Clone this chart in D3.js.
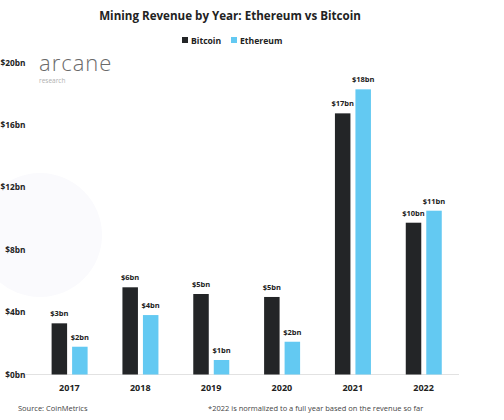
<!DOCTYPE html>
<html>
<head>
<meta charset="utf-8">
<script src="https://cdn.jsdelivr.net/npm/d3@7"></script>
<style>
  html, body { margin: 0; padding: 0; background: #fff; }
  text { font-family: "Open Sans", sans-serif; }
</style>
</head>
<body>
<div id="chart-area"></div>
<script>
// data
var years = ["2017", "2018", "2019", "2020", "2021", "2022"];
var series = ["Bitcoin", "Ethereum"];
var bitcoin = [3.28, 5.59, 5.16, 4.97, 16.74, 9.73];
var ethereum = [1.78, 3.81, 0.93, 2.1, 18.28, 10.5];
var btcLabels = ["$3bn", "$6bn", "$5bn", "$5bn", "$17bn", "$10bn"];
var ethLabels = ["$2bn", "$4bn", "$1bn", "$2bn", "$18bn", "$11bn"];
var yTicks = [0, 4, 8, 12, 16, 20];

var colors = { Bitcoin: "#232527", Ethereum: "#63c9f2" };

var W = 504, H = 420;
var svg = d3.select("#chart-area").append("svg")
            .attr("width", W)
            .attr("height", H);

// faint watermark shape in the background
svg.append("circle")
   .attr("cx", 40).attr("cy", 235).attr("r", 62)
   .attr("fill", "#fafafd");

var y = d3.scaleLinear()
          .domain([0, 20])
          .range([374.5, 62.5]);

var x = d3.scaleBand()
          .domain(years)
          .range([34, 459]);

var xs = d3.scaleBand()
           .domain(series)
           .range([17.6, 53.6])
           .paddingInner(0.244);

// title
svg.append("text")
   .attr("x", 230).attr("y", 20)
   .attr("text-anchor", "middle")
   .attr("font-size", 11.6)
   .attr("font-weight", 700)
   .attr("fill", "#222")
   .text("Mining Revenue by Year: Ethereum vs Bitcoin");

// legend
var legend = svg.append("g");
var legendX = [182, 231];
series.forEach((s, i) => {
  legend.append("rect")
        .attr("x", legendX[i]).attr("y", 37)
        .attr("width", 6).attr("height", 6)
        .attr("fill", colors[s]);
  legend.append("text")
        .attr("x", legendX[i] + 9).attr("y", 43.5)
        .attr("font-size", 8.6)
        .attr("font-weight", 700)
        .attr("fill", "#222")
        .text(s);
});

// logo
svg.append("text")
   .attr("x", 39).attr("y", 71)
   .attr("font-family", "Lato, sans-serif")
   .attr("font-size", 22)
   .attr("font-weight", 300)
   .attr("letter-spacing", 1)
   .attr("fill", "#6a6a6a")
   .text("arcane");
svg.append("text")
   .attr("x", 39).attr("y", 83)
   .attr("font-size", 6.5)
   .attr("fill", "#b0b0b0")
   .text("research");

// y axis labels
var yAxis = d3.axisLeft(y)
              .tickValues(yTicks)
              .tickSize(0)
              .tickPadding(0)
              .tickFormat((d) => "$" + d + "bn");
svg.append("g")
   .attr("transform", "translate(25.5,0)")
   .call(yAxis)
   .call((g) => g.select(".domain").remove())
   .selectAll("text")
     .attr("font-size", 8.3)
     .attr("font-weight", 700)
     .attr("fill", "#222");

// baseline
svg.append("line")
   .attr("x1", 25).attr("x2", 459)
   .attr("y1", y(0)).attr("y2", y(0))
   .attr("stroke", "#e2e2e2")
   .attr("stroke-width", 1);

// x axis labels
var xAxis = d3.axisBottom(x).tickSize(0).tickPadding(10);
svg.append("g")
   .attr("transform", "translate(0," + y(0) + ")")
   .call(xAxis)
   .call((g) => g.select(".domain").remove())
   .selectAll("text")
     .attr("font-size", 9)
     .attr("font-weight", 700)
     .attr("fill", "#222");

// bars
var rows = [];
years.forEach((yr, i) => {
  rows.push({ year: yr, s: "Bitcoin", v: bitcoin[i], label: btcLabels[i] });
  rows.push({ year: yr, s: "Ethereum", v: ethereum[i], label: ethLabels[i] });
});

svg.selectAll("rect.bar")
   .data(rows)
   .enter()
   .append("rect")
     .attr("class", "bar")
     .attr("x", (d) => x(d.year) + xs(d.s))
     .attr("y", (d) => y(d.v))
     .attr("width", xs.bandwidth())
     .attr("height", (d) => y(0) - y(d.v))
     .attr("fill", (d) => colors[d.s]);

svg.selectAll("text.val")
   .data(rows)
   .enter()
   .append("text")
     .attr("class", "val")
     .attr("x", (d) => x(d.year) + xs(d.s) + xs.bandwidth() / 2)
     .attr("y", (d) => y(d.v) - 7)
     .attr("text-anchor", "middle")
     .attr("font-size", 7.5)
     .attr("font-weight", 700)
     .attr("fill", "#222")
     .text((d) => d.label);

// footer
svg.append("text")
   .attr("x", 18).attr("y", 411)
   .attr("font-size", 7.5)
   .attr("fill", "#444")
   .text("Source: CoinMetrics");
svg.append("text")
   .attr("x", 208).attr("y", 411)
   .attr("font-size", 7.5)
   .attr("fill", "#444")
   .text("*2022 is normalized to a full year based on the revenue so far");
</script>
</body>
</html>
